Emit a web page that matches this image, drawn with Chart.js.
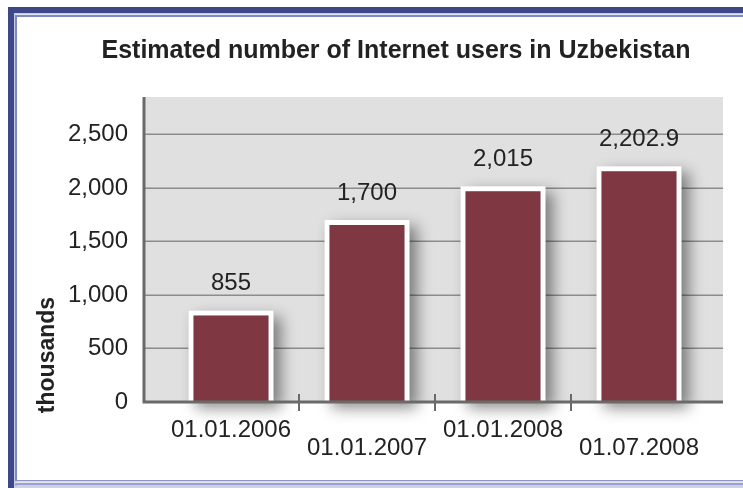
<!DOCTYPE html>
<html>
<head>
<meta charset="utf-8">
<title>Internet users in Uzbekistan</title>
<script src="https://cdn.jsdelivr.net/npm/chart.js@4/dist/chart.umd.min.js"></script>
<style>
  html, body { margin: 0; padding: 0; background: #fff; }
  canvas { display: block; }
</style>
</head>
<body>
<canvas id="usersChart" width="743" height="488"></canvas>
<script>
// staggered date labels: empty line pushes every second label down
const dates = [['01.01.2006', ''], ['', '01.01.2007'], ['01.01.2008', ''], ['', '01.07.2008']];
const users = [855, 1700, 2015, 2202.9];
const yTicks = [0, 500, 1000, 1500, 2000, 2500];

const TITLE = 'Estimated number of Internet users in Uzbekistan';
const FONT = "'Liberation Sans', Arial, Helvetica, sans-serif";
const TEXT = '#222';

// frame, title, grey back wall, gridlines
const backdrop = {
  id: 'backdrop',
  beforeDraw(chart) {
    const ctx = chart.ctx;
    const W = chart.width, H = chart.height;
    const y = chart.scales.y;
    const top = chart.chartArea.top, bottom = chart.chartArea.bottom;
    ctx.save();
    ctx.fillStyle = '#fff';
    ctx.fillRect(0, 0, W, H);

    // blue frame
    ctx.fillStyle = '#3d4889';
    ctx.fillRect(8, 7, 6, H - 7);
    ctx.fillRect(8, 7, W - 8, 6);
    ctx.fillStyle = '#c8cce3';
    ctx.fillRect(14, 13, 1.5, H - 13);
    ctx.fillRect(14, 13, W - 14, 1.5);
    ctx.fillStyle = '#7f88bf';
    ctx.fillRect(15, 15, 2, H - 15);
    ctx.fillRect(15, 15, W - 15, 2);
    ctx.fillStyle = '#8e95c6';
    ctx.fillRect(15, 480, W - 15, 1.5);
    ctx.fillStyle = '#e3e5f0';
    ctx.fillRect(15, 481.5, W - 15, 1.5);
    ctx.fillStyle = '#9ba1cb';
    ctx.fillRect(15, 483, W - 15, 2.5);
    ctx.fillStyle = '#cdd0e6';
    ctx.fillRect(15, 485.5, W - 15, 2.5);

    // title
    ctx.fillStyle = TEXT;
    ctx.font = 'bold 25px ' + FONT;
    ctx.textAlign = 'center';
    ctx.textBaseline = 'middle';
    ctx.fillText(TITLE, 396, 51);

    // plot wall
    ctx.fillStyle = '#e0e0e0';
    ctx.fillRect(144, top, 723 - 144, bottom - top);

    // gridlines
    ctx.strokeStyle = '#8c8c8c';
    ctx.lineWidth = 1.5;
    yTicks.forEach(v => {
      if (v === 0) return;
      const py = Math.round(y.getPixelForValue(v)) + 0.25;
      ctx.beginPath();
      ctx.moveTo(144, py);
      ctx.lineTo(723, py);
      ctx.stroke();
    });

    // rotated unit label
    ctx.fillStyle = TEXT;
    ctx.font = 'bold 23px ' + FONT;
    ctx.translate(48, 355);
    ctx.rotate(-Math.PI / 2);
    ctx.fillText('thousands', 0, 0);
    ctx.restore();
  },
  // soft drop shadow behind each bar
  beforeDatasetsDraw(chart) {
    const ctx = chart.ctx;
    const meta = chart.getDatasetMeta(0);
    ctx.save();
    ctx.beginPath();
    ctx.rect(144, 0, 723 - 144, chart.height);
    ctx.clip();
    ctx.shadowColor = 'rgba(0,0,0,0.45)';
    ctx.shadowBlur = 14;
    ctx.shadowOffsetX = 7;
    ctx.shadowOffsetY = 6;
    ctx.fillStyle = '#e0e0e0';
    meta.data.forEach(bar => {
      const p = bar.getProps(['x', 'y', 'base', 'width'], true);
      ctx.fillRect(p.x - p.width / 2, p.y, p.width, p.base - p.y);
    });
    ctx.restore();
  },
  // axis lines, category ticks and value labels
  afterDatasetsDraw(chart) {
    const ctx = chart.ctx;
    const x = chart.scales.x;
    const top = chart.chartArea.top, bottom = chart.chartArea.bottom;
    ctx.save();
    ctx.strokeStyle = '#6a6a6a';
    ctx.lineWidth = 3;
    ctx.beginPath();
    ctx.moveTo(144, top);
    ctx.lineTo(144, bottom + 1);
    ctx.moveTo(142.5, bottom);
    ctx.lineTo(723, bottom);
    ctx.stroke();

    ctx.lineWidth = 2;
    for (let i = 0; i < dates.length - 1; i++) {
      const px = (x.getPixelForValue(i) + x.getPixelForValue(i + 1)) / 2;
      ctx.beginPath();
      ctx.moveTo(px, bottom - 8);
      ctx.lineTo(px, bottom + 9);
      ctx.stroke();
    }

    ctx.fillStyle = TEXT;
    ctx.font = '24px ' + FONT;
    ctx.textAlign = 'center';
    ctx.textBaseline = 'middle';
    chart.getDatasetMeta(0).data.forEach((bar, i) => {
      const label = users[i].toLocaleString('en-US', { maximumFractionDigits: 1 });
      ctx.fillText(label, bar.x, bar.y - 27);
    });
    ctx.restore();
  }
};

new Chart(document.getElementById('usersChart'), {
  type: 'bar',
  data: {
    labels: dates,
    datasets: [{
      data: users,
      backgroundColor: '#7f3841',
      borderColor: '#ffffff',
      borderWidth: 5,
      barPercentage: 0.625,
      categoryPercentage: 1
    }]
  },
  options: {
    responsive: false,
    animation: false,
    layout: { padding: { left: 0, right: 36, top: 97, bottom: 0 } },
    plugins: {
      legend: { display: false },
      tooltip: { enabled: false },
      title: { display: false }
    },
    scales: {
      x: {
        grid: { display: false, drawTicks: false },
        border: { display: false },
        ticks: {
          color: TEXT,
          font: { family: FONT, size: 24, lineHeight: '18px' },
          padding: 19,
          maxRotation: 0,
          autoSkip: false
        },
        afterFit(scale) { scale.height = 86; }
      },
      y: {
        min: 0,
        max: 2850,
        grid: { display: false, drawTicks: false },
        border: { display: false },
        ticks: {
          color: TEXT,
          font: { family: FONT, size: 24 },
          padding: 35,
          callback: v => v.toLocaleString('en-US')
        },
        afterBuildTicks(scale) { scale.ticks = yTicks.map(v => ({ value: v })); },
        afterFit(scale) { scale.width = 163; }
      }
    }
  },
  plugins: [backdrop]
});
</script>
</body>
</html>
